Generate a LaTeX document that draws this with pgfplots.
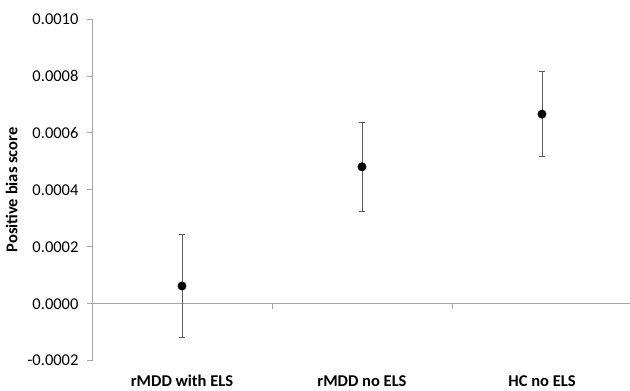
\documentclass[border=0pt]{standalone}
\usepackage{pgfplots}
\pgfplotsset{compat=1.18}
\usepackage{fontspec}
\setmainfont{Carlito}
\definecolor{axgray}{RGB}{165,165,165}
\definecolor{errgray}{RGB}{90,90,90}
\begin{document}
\begin{tikzpicture}[x=1pt,y=1pt]
\begin{axis}[
  at={(0pt,0pt)}, anchor=south west,
  scale only axis, width=540pt, height=341.7pt,
  xmin=0.5, xmax=3.5, ymin=-0.0002, ymax=0.0010,
  axis y line*=left,
  axis x line*=bottom,
  x axis line style={draw=none},
  y axis line style={axgray, line width=0.8pt},
  ytick={-0.0002,0,0.0002,0.0004,0.0006,0.0008,0.0010},
  scaled y ticks=false,
  yticklabel style={font=\fontsize{16.5}{19}\selectfont, xshift=-5pt},
  yticklabel style={/pgf/number format/fixed, /pgf/number format/fixed zerofill, /pgf/number format/precision=4, /pgf/number format/assume math mode=true},
  tick align=outside,
  major y tick style={axgray, line width=0.8pt},
  major tick length=5pt,
  xtick={1,2,3},
  xticklabels={rMDD with ELS, rMDD no ELS, HC no ELS},
  major x tick style={draw=none},
  xticklabel style={font=\bfseries\fontsize{16.5}{19}\selectfont, yshift=-6pt},
  ylabel={Positive bias score},
  ylabel style={font=\bfseries\fontsize{16.5}{19}\selectfont, yshift=3pt},
  clip=false,
]
\draw[axgray, line width=0.8pt] (axis cs:0.5,0) -- (axis cs:3.5,0);
\draw[axgray, line width=0.8pt] (axis cs:1.5,0) -- ([yshift=-5pt]axis cs:1.5,0);
\draw[axgray, line width=0.8pt] (axis cs:2.5,0) -- ([yshift=-5pt]axis cs:2.5,0);
\addplot[only marks, mark=*, mark size=4.2pt, black,
  error bars/.cd, y dir=both, y explicit,
  error bar style={errgray, line width=0.9pt},
  error mark options={errgray, line width=0.9pt, rotate=90, mark size=3.2pt}]
  coordinates {
  (1,0.0000623) +- (0,0.000182)
  (2,0.000481) +- (0,0.000156)
  (3,0.000666) +- (0,0.000149)
  };
\end{axis}
\pgfresetboundingbox
\useasboundingbox (-92pt,-30.3pt) rectangle (538pt,360.7pt);
\end{tikzpicture}
\end{document}
